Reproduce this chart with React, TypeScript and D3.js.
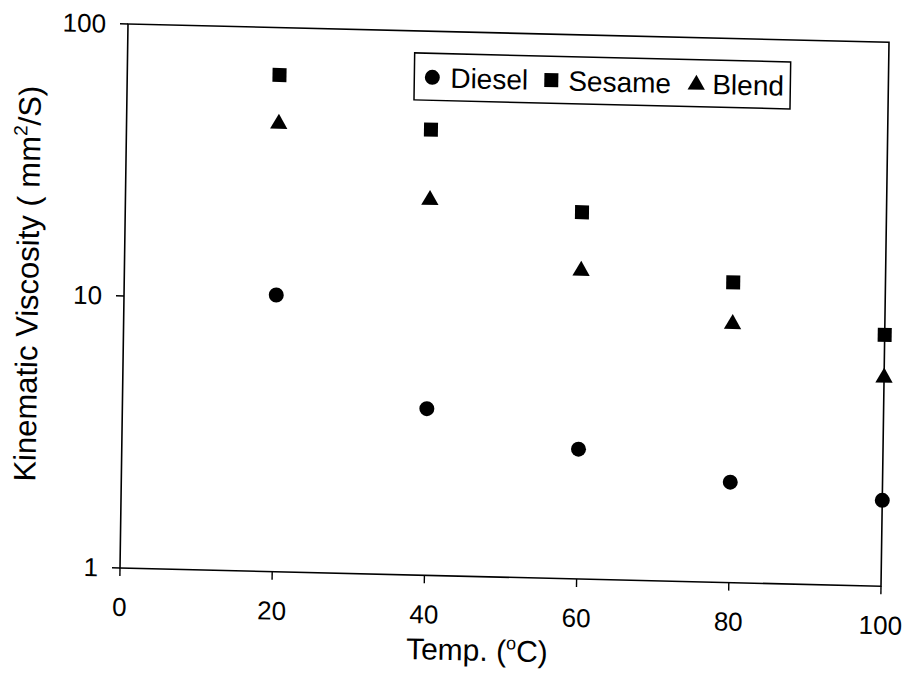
import React from 'react';
import * as d3 from 'd3';

// values
const temps = [20, 40, 60, 80, 100];
const diesel = [10.4, 4.1, 3.0, 2.34, 2.07];
const sesame = [67, 43.5, 22.3, 12.7, 8.4];
const blend = [44.7, 24.2, 13.7, 9.0, 5.9];
const xTicks = [0, 20, 40, 60, 80, 100];
const yTicks = [1, 10, 100];
const legendItems = ['Diesel', 'Sesame', 'Blend'];

const W = 761;
const H = 544;
const FONT = 'Liberation Sans, Arial, sans-serif';

const Marker = ({ type, x, y }: { type: string; x: number; y: number }) => {
    if (type === 'circle') return <circle cx={x} cy={y} r={7.5} fill="#000" />;
    if (type === 'square') return <rect x={x - 7} y={y - 7} width={14} height={14} fill="#000" />;
    const tri = d3.symbol().type(d3.symbolTriangle).size(130)();
    return <path d={tri || ''} transform={`translate(${x},${y + 1})`} fill="#000" />;
};

const App = () => {
    const x = d3.scaleLinear().domain([0, 100]).range([0, W]);
    const y = d3.scaleLog().domain([1, 100]).range([H, 0]);

    const series = [
        { name: 'Diesel', type: 'circle', values: diesel },
        { name: 'Sesame', type: 'square', values: sesame },
        { name: 'Blend', type: 'triangle', values: blend },
    ];

    // legend layout
    const legX = 287;
    const legY = 22;
    const legOffsets = [18, 137, 282];
    const textGap = [18, 17, 16];

    return (
        <svg width={906} height={693} style={{ position: 'absolute', left: 0, top: 0, background: '#fff' }}>
            {/* scan is slightly skewed */}
            <g transform="matrix(1,0.024,-0.0147,1,128,24)" fontFamily={FONT} fill="#000">
                <rect x={0} y={0} width={W} height={H} fill="none" stroke="#000" strokeWidth={1.6} />

                {xTicks.map(t => (
                    <g key={'x' + t}>
                        <line x1={x(t)} x2={x(t)} y1={H} y2={H + 8} stroke="#000" strokeWidth={1.4} />
                        <text x={x(t)} y={H + 48} textAnchor="middle" fontSize={26}>{t}</text>
                    </g>
                ))}
                {yTicks.map(t => (
                    <g key={'y' + t}>
                        <line x1={-8} x2={0} y1={y(t)} y2={y(t)} stroke="#000" strokeWidth={1.4} />
                        <text x={-22} y={y(t) + 9} textAnchor="end" fontSize={26}>{t}</text>
                    </g>
                ))}

                <text x={358} y={H + 84} textAnchor="middle" fontSize={30}>
                    Temp. (<tspan fontSize={18} dy={-12}>o</tspan><tspan dy={12}>C)</tspan>
                </text>
                <text transform={`translate(-86,${H / 2 - 10}) rotate(-90)`} textAnchor="middle" fontSize={31}>
                    Kinematic Viscosity ( mm<tspan fontSize={19} dy={-13}>2</tspan><tspan dy={13}>/S)</tspan>
                </text>

                {series.map(s => s.values.map((v, i) => (
                    <Marker key={s.name + i} type={s.type} x={x(temps[i])} y={y(v)} />
                )))}

                <rect x={legX} y={legY} width={376} height={47} fill="#fff" stroke="#000" strokeWidth={1.5} />
                {legendItems.map((name, i) => (
                    <g key={name}>
                        <Marker type={series[i].type} x={legX + legOffsets[i]} y={legY + 24} />
                        <text x={legX + legOffsets[i] + textGap[i]} y={legY + 34} fontSize={28}>{name}</text>
                    </g>
                ))}
            </g>
        </svg>
    );
};

export default App;
